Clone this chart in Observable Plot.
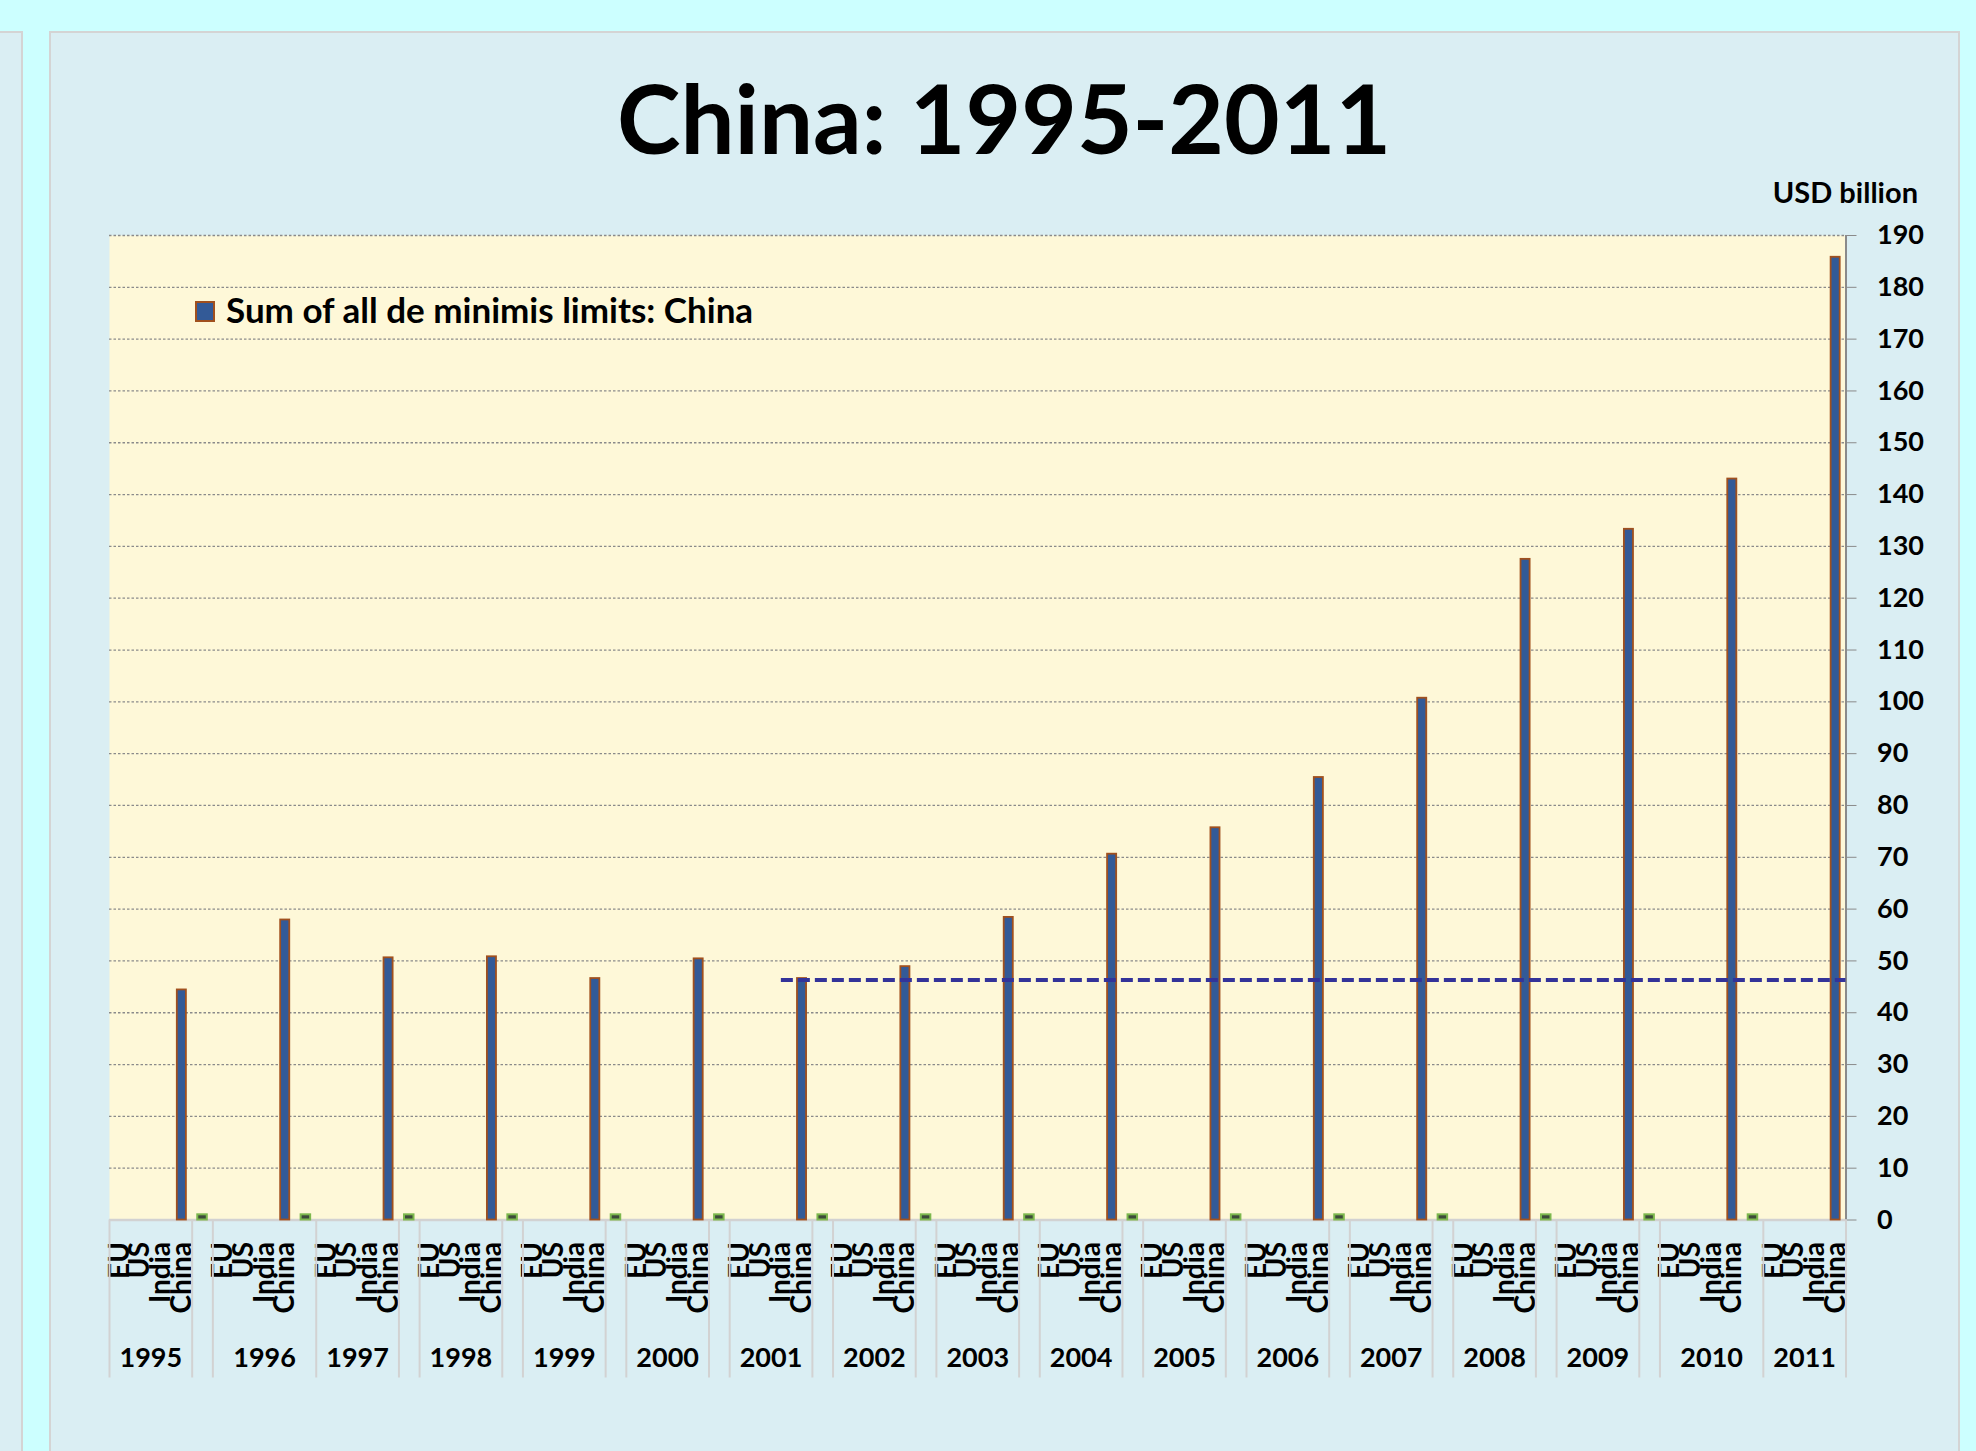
<!DOCTYPE html>
<html>
<head>
<meta charset="utf-8">
<script src="https://cdn.jsdelivr.net/npm/d3@7"></script>
<script src="https://cdn.jsdelivr.net/npm/@observablehq/plot@0.6"></script>
<style>
  html, body { margin: 0; padding: 0; }
  body { width: 1976px; height: 1451px; background: #CCFFFF; position: relative; overflow: hidden; font-family: Lato, "Open Sans", sans-serif; }
  #leftpanel { position: absolute; left: 0; top: 31px; width: 21px; height: 1430px; background: #DAEEF3; border-top: 2px solid #D4D4D4; border-right: 2px solid #D4D4D4; }
  #mainpanel { position: absolute; left: 49px; top: 31px; width: 1907px; height: 1430px; background: #DAEEF3; border: 2px solid #D4D4D4; }
  #title { position: absolute; left: 0; width: 2008px; text-align: center; top: 69px; font-size: 96px; line-height: 1; font-weight: 700; color: #000; z-index: 3; }
  #unit { position: absolute; right: 58px; top: 177px; font-size: 29px; line-height: 1; font-weight: 700; color: #000; z-index: 3; }
  #legend { position: absolute; left: 195px; top: 292px; z-index: 3; display: flex; align-items: flex-start; }
  #legend .sw { width: 20px; height: 21px; box-sizing: border-box; background: #335A97; border: 2px solid #A0501E; margin-top: 9px; }
  #legend .lbl { margin-left: 11px; font-size: 35px; line-height: 1; font-weight: 700; color: #000; }
  #chart { position: absolute; left: 0; top: 175px; z-index: 2; }
</style>
</head>
<body>
<div id="leftpanel"></div>
<div id="mainpanel"></div>
<div id="title">China: 1995-2011</div>
<div id="unit">USD billion</div>
<div id="legend"><div class="sw"></div><div class="lbl">Sum of all de minimis limits: China</div></div>
<div id="chart"></div>
<script>
// ---- data ----
const years = [1995, 1996, 1997, 1998, 1999, 2000, 2001, 2002, 2003, 2004, 2005, 2006, 2007, 2008, 2009, 2010, 2011];
const categories = ["EU", "US", "India", "China"];
const chinaValues = [44.4, 57.9, 50.6, 50.8, 46.6, 50.4, 46.6, 48.9, 58.4, 70.6, 75.7, 85.4, 100.7, 127.5, 133.3, 143.0, 185.8];
const minorValues = [1, 1, 1, 1, 1, 1, 1, 1, 1, 1, 1, 1, 1, 1, 1, 1]; // small series in the gap after each year
const yearsSpanningGap = [1996, 2010]; // year labels whose bracket also covers the following gap
const referenceLevel = 46.3;
const referenceFromYear = 2001;
const referenceFromCategory = "India";
const yTicks = d3.range(0, 191, 10);

// ---- slot layout (category positions) ----
const slots = [];
let idx = 0;
years.forEach((yr, k) => {
  categories.forEach(c => slots.push({year: yr, cat: c, i: idx++}));
  if (k < years.length - 1) slots.push({year: yr, cat: "", i: idx++});
});
const N = idx;
const slotOf = (yr, cat) => slots.find(s => s.year === yr && s.cat === cat).i;

const chinaBars = years.map((yr, k) => ({year: yr, value: chinaValues[k], i: slotOf(yr, "China")}));
const minorBars = minorValues.map((v, k) => ({year: years[k], value: v, i: slotOf(years[k], "")}));

// year brackets
const groups = [];
years.forEach((yr, k) => {
  const start = slotOf(yr, "EU");
  const spans = yearsSpanningGap.includes(yr) && k < years.length - 1;
  const end = start + categories.length + (spans ? 1 : 0);
  groups.push({label: String(yr), start, end});
  if (!spans && k < years.length - 1) groups.push({label: "", start: end, end: end + 1});
});
const boundaries = Array.from(new Set(groups.flatMap(g => [g.start, g.end]))).sort((a, b) => a - b);
const yearLabels = groups.filter(g => g.label !== "");
const yearCenters = yearLabels.map(g => (g.start + g.end) / 2);
const yearAt = new Map(yearLabels.map(g => [(g.start + g.end) / 2, g.label]));
const catCenters = slots.filter(s => s.cat !== "").map(s => s.i + 0.5);
const catAt = new Map(slots.filter(s => s.cat !== "").map(s => [s.i + 0.5, s.cat]));

const refStart = slotOf(referenceFromYear, referenceFromCategory) + 0.5;

const chart = Plot.plot({
  width: 1976,
  height: 1276,
  marginLeft: 109,
  marginRight: 130.5,
  marginTop: 60,
  marginBottom: 231.5,
  style: {background: "transparent", fontFamily: "Lato, 'Open Sans', sans-serif", fontSize: "27px", fontWeight: "bold", color: "black", overflow: "visible"},
  x: {domain: [0, N]},
  y: {domain: [0, 190]},
  marks: [
    Plot.frame({fill: "#FEF8D8", stroke: null}),
    Plot.gridY(yTicks.filter(v => v > 0), {stroke: "#8a8a8a", strokeOpacity: 1, strokeWidth: 1.3, strokeDasharray: "2.5,2"}),
    Plot.ruleY([0], {stroke: "#d2d2d2", strokeWidth: 2.5}),
    Plot.ruleX([N], {stroke: "#8a8a8a", strokeWidth: 2}),
    Plot.rectY(chinaBars, {x1: d => d.i + 0.28, x2: d => d.i + 0.72, y1: 0, y2: "value", fill: "#335A97", stroke: "#A0501E", strokeWidth: 1.8}),
    Plot.rectY(minorBars, {x1: d => d.i + 0.27, x2: d => d.i + 0.73, y1: 0, y2: "value", fill: "#3d4a3a", stroke: "#7DB84E", strokeWidth: 2}),
    Plot.ruleY([referenceLevel], {x1: refStart, x2: N, stroke: "#333399", strokeWidth: 4, strokeDasharray: "12,5"}),
    Plot.axisY({anchor: "right", ticks: yTicks, tickSize: 10, tickPadding: 21, stroke: "#8a8a8a", fill: "black", fontSize: 27, fontWeight: "bold", label: null, tickFormat: d => String(d)}),
    Plot.axisX({ticks: catCenters, tickFormat: d => catAt.get(d), tickSize: 0, tickPadding: 22, tickRotate: -90, fontSize: 28, fontWeight: "bold", fill: "black", label: null}),
    Plot.axisX({ticks: boundaries, tickFormat: () => "", tickSize: 158, stroke: "#d2d2d2", strokeWidth: 2, label: null}),
    Plot.axisX({ticks: yearCenters, tickFormat: d => yearAt.get(d), tickSize: 0, tickPadding: 128, fontSize: 27, fontWeight: "bold", fill: "black", label: null})
  ]
});
document.getElementById("chart").appendChild(chart);
</script>
</body>
</html>
